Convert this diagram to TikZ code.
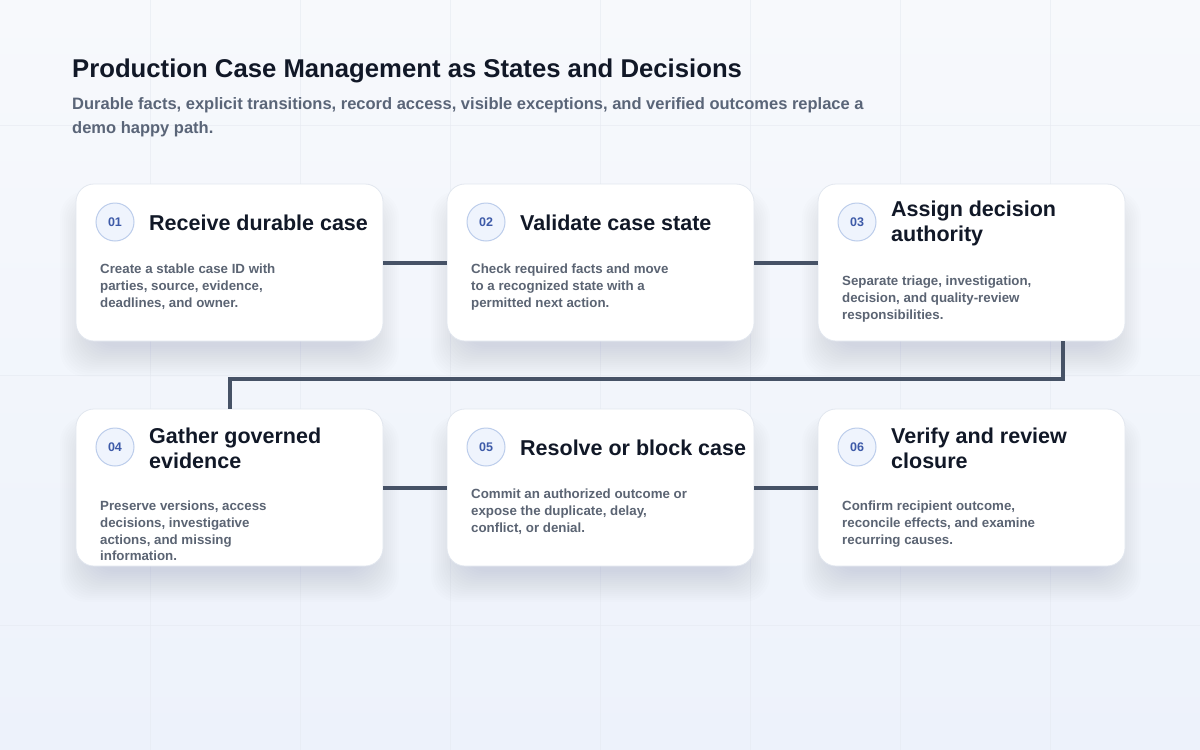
\documentclass[tikz,border=0pt]{standalone}
\usepackage{fontspec}
\setmainfont{Liberation Sans}
\usetikzlibrary{calc}
\definecolor{bgA}{HTML}{F7F9FC}
\definecolor{bgB}{HTML}{EDF2FB}
\definecolor{gridc}{HTML}{E6EAF1}
\definecolor{titlec}{HTML}{111827}
\definecolor{subc}{HTML}{5A6578}
\definecolor{bodyc}{HTML}{5B6473}
\definecolor{badgetxt}{HTML}{3D5AA8}
\definecolor{badgefill}{HTML}{EFF4FD}
\definecolor{badgeline}{HTML}{BCCDEB}
\definecolor{connc}{HTML}{465266}
\definecolor{cardline}{HTML}{E2E7EF}
\definecolor{shadowc}{HTML}{3A4A6A}
\tikzset{
  cardbox/.style={draw=cardline, line width=0.8pt, fill=white, rounded corners=18pt,
    minimum width=307pt, minimum height=157pt, inner sep=0pt},
  shadowlayer/.style={fill=shadowc, opacity=0.009, rounded corners=26pt},
  badge/.style={circle, draw=badgeline, line width=1pt, fill=badgefill, minimum size=38pt, inner sep=0pt,
    text=badgetxt, font=\bfseries\fontsize{12.5}{14}\selectfont},
  cardtitle/.style={anchor=west, inner sep=0pt, align=left, text=titlec,
    font=\bfseries\fontsize{21.5}{25}\selectfont},
  cardbody/.style={anchor=north west, inner sep=0pt, align=left, text=bodyc,
    font=\bfseries\fontsize{13.3}{16.7}\selectfont},
  conn/.style={draw=connc, line width=4pt}
}
% #1 name, #2 left x, #3 top y, #4 number, #5 title, #6 body, #7 body first-line centre y
\newcommand\mycard[7]{%
  \foreach \s in {0,2,...,30} {
    \fill[shadowlayer] (#2+14-\s,#3+28-0.7*\s) rectangle (#2+293+\s,#3+163+\s);
  }
  \node[cardbox] (#1) at (#2+153.5,#3+78.5) {};
  \node[badge] (#1b) at (#2+39,#3+38) {#4};
  \node[cardtitle] (#1t) at (#2+73,#3+39) {#5};
  \node[cardbody] (#1d) at (#2+24,#7-5) {#6};
}
\begin{document}
\begin{tikzpicture}[x=1pt,y=-1pt]
\useasboundingbox (0,0) rectangle (1200,750);
\shade[left color=bgA, right color=bgB, shading angle=0] (0,0) rectangle (1200,750);
\shade[top color=bgA, bottom color=bgB, opacity=0.6] (0,0) rectangle (1200,750);
\foreach \gx in {150,300,...,1050} \draw[gridc, line width=0.8pt, opacity=0.6] (\gx,0) -- (\gx,750);
\foreach \gy in {125,375,625} \draw[gridc, line width=0.8pt, opacity=0.6] (0,\gy) -- (1200,\gy);

\node[anchor=base west, inner sep=0pt, text=titlec, font=\bfseries\fontsize{25.7}{28}\selectfont] (title) at (72,77) {Production Case Management as States and Decisions};
\node[anchor=north west, inner sep=0pt, align=left, text=subc, font=\bfseries\fontsize{16.5}{24}\selectfont] (subtitle) at (72,97) {Durable facts, explicit transitions, record access, visible exceptions, and verified outcomes replace a\\demo happy path.};

\mycard{c1}{76}{184}{01}{Receive durable case}{Create a stable case ID with\\parties, source, evidence,\\deadlines, and owner.}{269}
\mycard{c2}{447}{184}{02}{Validate case state}{Check required facts and move\\to a recognized state with a\\permitted next action.}{269}
\mycard{c3}{818}{184}{03}{Assign decision\\authority}{Separate triage, investigation,\\decision, and quality-review\\responsibilities.}{281}
\mycard{c4}{76}{409}{04}{Gather governed\\evidence}{Preserve versions, access\\decisions, investigative\\actions, and missing\\information.}{506}
\mycard{c5}{447}{409}{05}{Resolve or block case}{Commit an authorized outcome or\\expose the duplicate, delay,\\conflict, or denial.}{494}
\mycard{c6}{818}{409}{06}{Verify and review\\closure}{Confirm recipient outcome,\\reconcile effects, and examine\\recurring causes.}{506}

\coordinate (turn) at (0,379);
\draw[conn] (c1.east) -- (c2.west);
\draw[conn] (c2.east) -- (c3.west);
\draw[conn] ([xshift=91pt]c3.south) |- (turn -| c4.north) -- (c4.north);
\draw[conn] (c4.east) -- (c5.west);
\draw[conn] (c5.east) -- (c6.west);
\end{tikzpicture}
\end{document}
